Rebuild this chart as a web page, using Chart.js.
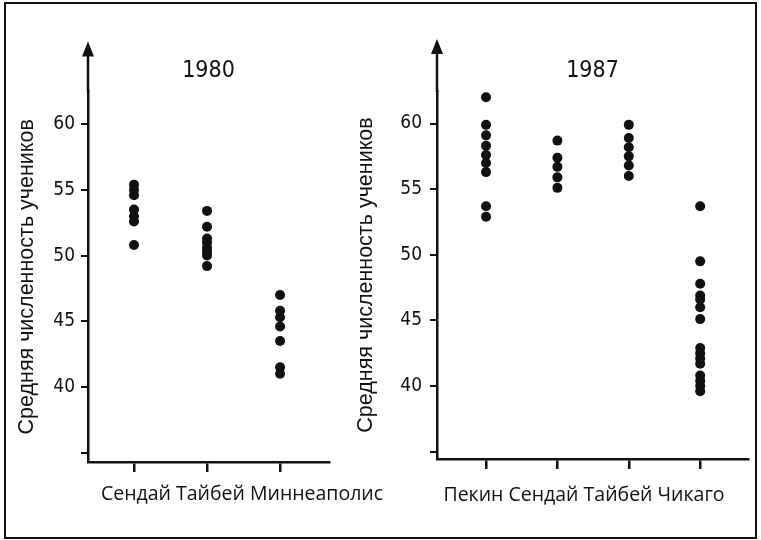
<!DOCTYPE html>
<html lang="ru">
<head>
  <meta charset="UTF-8">
  <title>Средняя численность учеников</title>
  <script src="https://cdn.jsdelivr.net/npm/chart.js"></script>
  <style>
    body {
      margin: 0;
      background: #fff;
      width: 761px;
      height: 540px;
      position: relative;
      overflow: hidden;
    }
    .frame {
      position: absolute;
      left: 4px;
      top: 2px;
      width: 749px;
      height: 533px;
      border: 2px solid #111;
    }
    canvas {
      position: absolute;
      top: 0;
    }
    #chart1980 { left: 0; }
    #chart1987 { left: 345px; }
  </style>
</head>
<body>
  <div class="frame"></div>
  <canvas id="chart1980" width="484" height="540"></canvas>
  <canvas id="chart1987" width="478" height="540"></canvas>

  <script>
    // 1980
    const categories1980 = ['Сендай', 'Тайбей', 'Миннеаполис'];
    const sendai1980 = [55.4, 55.0, 54.6, 53.5, 53.0, 52.6, 50.8];
    const taipei1980 = [53.4, 52.2, 51.3, 51.0, 50.6, 50.3, 50.0, 49.2];
    const minneapolis1980 = [47.0, 45.8, 45.3, 44.6, 43.5, 41.5, 41.0];

    // 1987
    const categories1987 = ['Пекин', 'Сендай', 'Тайбей', 'Чикаго'];
    const beijing1987 = [62.0, 59.9, 59.1, 58.3, 57.6, 57.0, 56.3, 53.7, 52.9];
    const sendai1987 = [58.7, 57.4, 56.7, 55.9, 55.1];
    const taipei1987 = [59.9, 58.9, 58.2, 57.5, 56.8, 56.0];
    const chicago1987 = [53.7, 49.5, 47.8, 46.9, 46.6, 46.0, 45.1, 42.9, 42.5, 42.1, 41.7, 40.8, 40.4, 40.0, 39.6];

    const yTicks = [35, 40, 45, 50, 55, 60];
    const yTitle = 'Средняя численность учеников';

    const INK = '#111';
    const NARROW = '"Liberation Sans Narrow", "Arial Narrow", "DejaVu Sans Condensed", sans-serif';
    const LABEL_FONT = { family: '"Open Sans", "Noto Sans", sans-serif', size: 19.5 };

    // arrow on top of the y axis
    const axisArrow = {
      id: 'axisArrow',
      afterDraw(chart, args, opts) {
        const ctx = chart.ctx;
        const x = chart.chartArea.left;
        const top = chart.chartArea.top;
        const tip = top - opts.length;
        ctx.save();
        ctx.strokeStyle = INK;
        ctx.fillStyle = INK;
        ctx.lineWidth = 2.5;
        ctx.beginPath();
        ctx.moveTo(x, top + 1);
        ctx.lineTo(x, tip + 10);
        ctx.stroke();
        ctx.beginPath();
        ctx.moveTo(x, tip);
        ctx.lineTo(x - 6, tip + 15);
        ctx.lineTo(x + 6, tip + 15);
        ctx.closePath();
        ctx.fill();
        ctx.restore();
      }
    };

    function columns(cats, groups) {
      return groups.map((values, i) => ({
        label: cats[i],
        data: values.map(v => ({ x: i, y: v })),
        backgroundColor: INK,
        borderWidth: 0,
        pointRadius: 5,
        pointHoverRadius: 5
      }));
    }

    // the category names form one line of text, wider than the axis, so they
    // are a subtitle centred over the canvas; an empty right scale keeps the plot narrow
    function makeChart(id, year, cats, groups, p) {
      return new Chart(document.getElementById(id), {
        type: 'scatter',
        data: { datasets: columns(cats, groups) },
        options: {
          responsive: false,
          animation: false,
          layout: { padding: 0 },
          plugins: {
            legend: { display: false },
            tooltip: { enabled: false },
            title: {
              display: true,
              text: year,
              fullSize: false,
              color: INK,
              font: { family: NARROW, size: 23, weight: 'normal' },
              padding: { top: 57, bottom: p.titleBottom }
            },
            subtitle: {
              display: true,
              position: 'bottom',
              text: cats.join(' '),
              color: INK,
              font: LABEL_FONT,
              padding: { top: p.labelTop, bottom: p.labelBottom }
            },
            axisArrow: { length: p.arrow }
          },
          scales: {
            x: {
              type: 'linear',
              position: 'bottom',
              min: p.xMin,
              max: p.xMax,
              afterBuildTicks: s => { s.ticks = cats.map((c, i) => ({ value: i })); },
              afterFit: s => { s.height = 10; },
              ticks: { display: false },
              grid: { drawOnChartArea: false, tickLength: 10, color: INK, lineWidth: 2.5 },
              border: { color: INK, width: 2.5 }
            },
            y: {
              type: 'linear',
              position: 'left',
              min: p.yMin,
              max: p.yMax,
              afterBuildTicks: s => { s.ticks = yTicks.map(v => ({ value: v })); },
              afterFit: s => { s.width = p.yWidth; },
              ticks: {
                color: INK,
                padding: p.tickPad,
                font: { family: NARROW, size: 19 },
                callback: v => (v === yTicks[0] ? '' : v)
              },
              grid: { drawOnChartArea: false, tickLength: 7, color: INK, lineWidth: 2 },
              border: { color: INK, width: 2.5 },
              title: {
                display: true,
                text: yTitle,
                color: INK,
                font: { family: '"Liberation Sans", Arial, sans-serif', size: 21.5 },
                padding: { top: p.yTitleTop, bottom: 0 }
              }
            },
            spare: {
              type: 'linear',
              position: 'right',
              afterFit: s => { s.width = p.spare; },
              ticks: { display: false },
              grid: { display: false },
              border: { display: false }
            }
          }
        },
        plugins: [axisArrow]
      });
    }

    makeChart('chart1980', '1980', categories1980, [sendai1980, taipei1980, minneapolis1980], {
      titleBottom: 7, arrow: 50, labelTop: 10.3, labelBottom: 34.3,
      xMin: -0.63, xMax: 2.67, spare: 155,
      yMin: 34.29, yMax: 62.48, yWidth: 88, tickPad: 6, yTitleTop: 14.1
    });

    makeChart('chart1987', '1987', categories1987, [beijing1987, sendai1987, taipei1987, chicago1987], {
      titleBottom: 6.4, arrow: 52, labelTop: 14.3, labelBottom: 33.3,
      xMin: -0.687, xMax: 3.67, spare: 75,
      yMin: 34.44, yMax: 62.48, yWidth: 92, tickPad: 8, yTitleTop: 8.1
    });
  </script>
</body>
</html>
